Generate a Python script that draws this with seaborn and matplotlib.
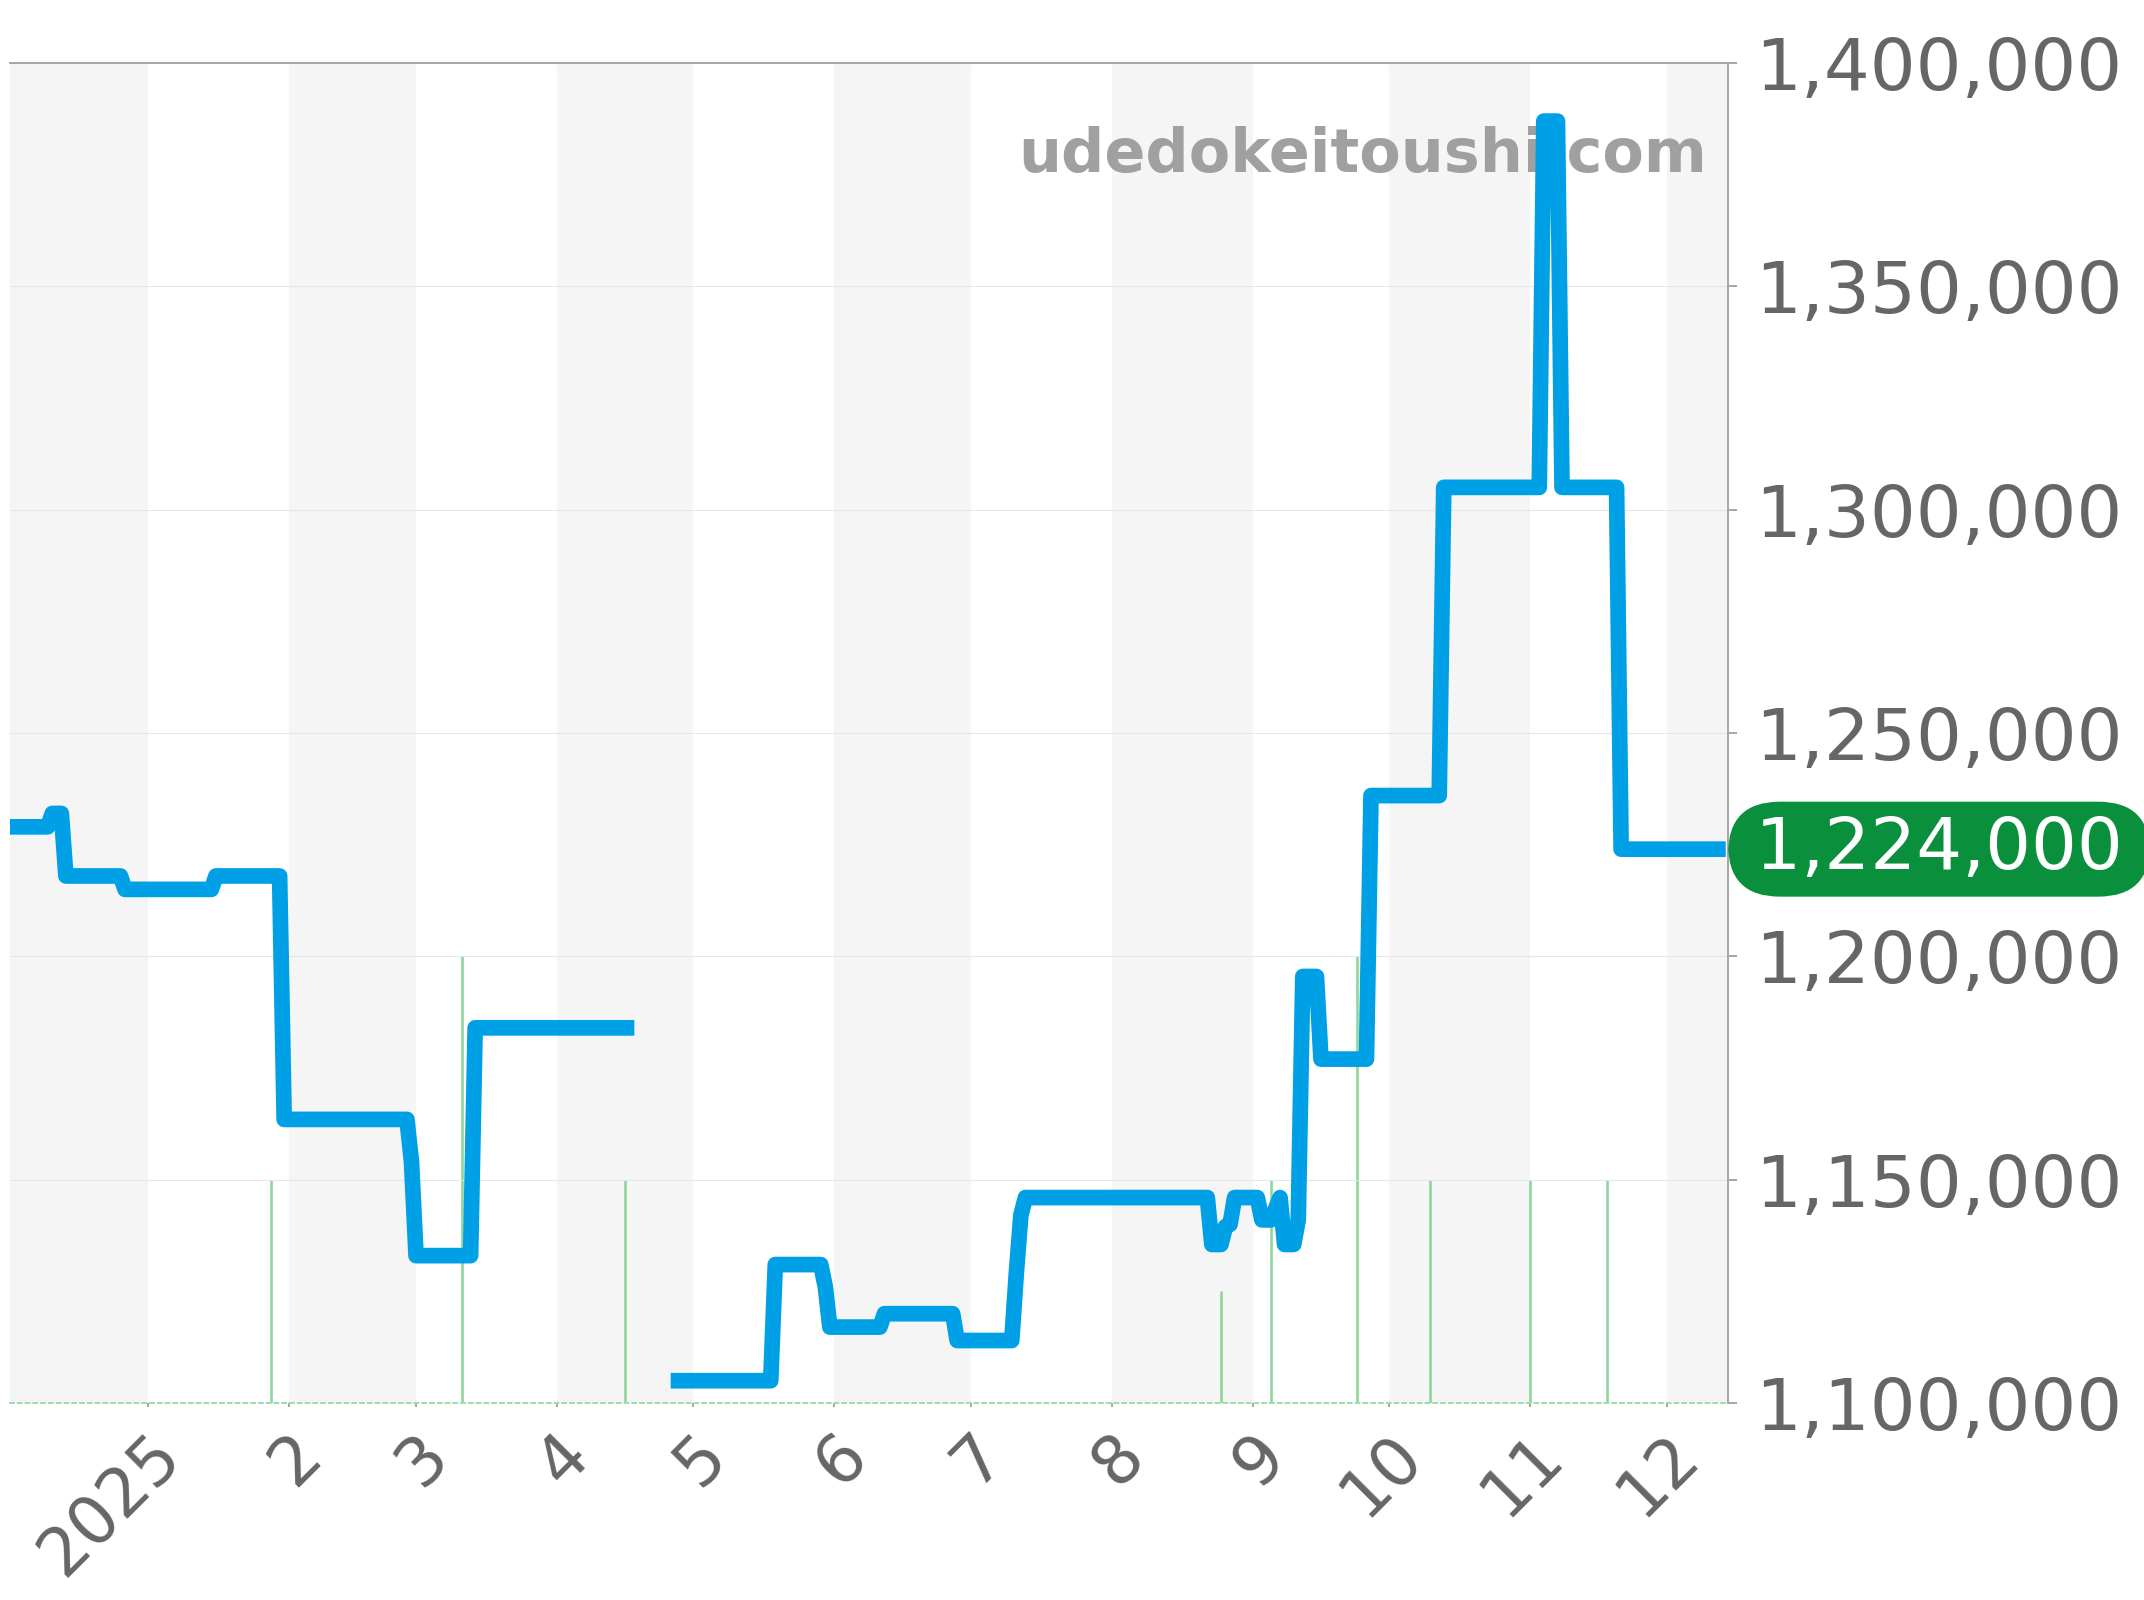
import numpy as np
import pandas as pd
import matplotlib
matplotlib.use("Agg")
import matplotlib.pyplot as plt
import matplotlib.transforms as mtransforms
from matplotlib.ticker import FuncFormatter
import seaborn as sns

# ── Price series: corner points of the step line (gap in late April) ──
SEG1_DATES = ["2024-12-01", "2024-12-10", "2024-12-11", "2024-12-13", "2024-12-14",
              "2024-12-26", "2024-12-27", "2025-01-15", "2025-01-16", "2025-01-30",
              "2025-01-31", "2025-02-27", "2025-02-28", "2025-03-01", "2025-03-13",
              "2025-03-14", "2025-04-18"]
SEG1_PRICES = [1229000, 1229000, 1232000, 1232000, 1218000,
               1218000, 1215000, 1215000, 1218000, 1218000,
               1163500, 1163500, 1154000, 1133000, 1133000,
               1184000, 1184000]

SEG2_DATES = ["2025-04-26", "2025-05-18", "2025-05-19", "2025-05-29", "2025-05-30",
              "2025-05-31", "2025-06-11", "2025-06-12", "2025-06-27", "2025-06-28",
              "2025-07-10", "2025-07-11", "2025-07-12", "2025-07-13", "2025-08-22",
              "2025-08-23", "2025-08-25", "2025-08-26", "2025-08-27", "2025-08-28",
              "2025-09-02", "2025-09-03", "2025-09-05", "2025-09-07", "2025-09-08",
              "2025-09-10", "2025-09-11", "2025-09-12", "2025-09-15", "2025-09-16",
              "2025-09-26", "2025-09-27", "2025-10-12", "2025-10-13", "2025-11-03",
              "2025-11-04", "2025-11-07", "2025-11-08", "2025-11-20", "2025-11-21",
              "2025-12-14"]
SEG2_PRICES = [1105000, 1105000, 1131000, 1131000, 1126000,
               1117000, 1117000, 1120000, 1120000, 1114000,
               1114000, 1129000, 1142000, 1146000, 1146000,
               1135500, 1135500, 1139500, 1140000, 1146000,
               1146000, 1141000, 1141000, 1146000, 1135500,
               1135500, 1141000, 1195500, 1195500, 1177000,
               1177000, 1236000, 1236000, 1305000, 1305000,
               1387000, 1387000, 1305000, 1305000, 1224000,
               1224000]

# ── Trade counts (green bars) ──
VOL_DATES = ["2025-01-28", "2025-03-11", "2025-04-16", "2025-08-25", "2025-09-05",
             "2025-09-24", "2025-10-10", "2025-11-01", "2025-11-18"]
VOL_COUNTS = [2, 4, 2, 1, 2, 4, 2, 2, 2]

MONTH_STARTS = pd.date_range("2024-12-01", "2026-01-01", freq="MS")
TICK_DATES = pd.date_range("2025-01-01", "2025-12-01", freq="MS")
TICK_LABELS = ["2025", "2", "3", "4", "5", "6", "7", "8", "9", "10", "11", "12"]
Y_TICKS = list(range(1100000, 1400001, 50000))

BLUE = "#00a0e6"
GREEN_BAR = "#90d69c"
PILL = "#0a8f3c"
GREY_TXT = "#666666"
AXIS_GREY = "#a6a6a6"

df = pd.concat([
    pd.DataFrame({"date": pd.to_datetime(SEG1_DATES), "price": SEG1_PRICES, "seg": 1}),
    pd.DataFrame({"date": pd.to_datetime(SEG2_DATES), "price": SEG2_PRICES, "seg": 2}),
], ignore_index=True)

fig = plt.figure(figsize=(21.44, 16), dpi=100)
ax = fig.add_axes([0.00466, 0.1231, 0.8013, 0.8375])
ax2 = ax.twinx()
ax.set_zorder(ax2.get_zorder() + 1)
ax.patch.set_visible(False)

# month bands + volume bars live on the back axes
for i, (s, e) in enumerate(zip(MONTH_STARTS[:-1], MONTH_STARTS[1:])):
    if i % 2 == 0:
        ax2.axvspan(s, e, color="#f5f5f5", lw=0, zorder=0)
ax2.vlines(pd.to_datetime(VOL_DATES), 0, VOL_COUNTS, color=GREEN_BAR, lw=1.9, zorder=2)
ax2.set_ylim(0, 12)
ax2.set_yticks([])
for sp in ax2.spines.values():
    sp.set_visible(False)

# price line
sns.lineplot(data=df, x="date", y="price", units="seg", estimator=None, sort=True,
             color=BLUE, lw=11.3, ax=ax, zorder=4,
             solid_joinstyle="round", solid_capstyle="butt")

ax.set_xlim(pd.Timestamp("2024-12-01 17:00"), pd.Timestamp("2025-12-14 12:00"))
ax.set_ylim(1100000, 1400000)
ax.set_xlabel("")
ax.set_ylabel("")

ax.grid(axis="y", color="#e6e6e6", lw=0.75)
ax.grid(axis="x", visible=False)

ax.yaxis.tick_right()
ax.set_yticks(Y_TICKS)
ax.yaxis.set_major_formatter(FuncFormatter(lambda v, p: f"{int(v):,}"))
ax.tick_params(axis="y", length=6.3, width=1.4, color=AXIS_GREY, pad=13,
               labelsize=52, labelcolor=GREY_TXT, left=False, right=True)

ax.set_xticks(TICK_DATES)
ax.set_xticklabels(TICK_LABELS)
ax.tick_params(axis="x", length=3.2, width=1.4, color=AXIS_GREY, pad=27,
               labelsize=48, labelcolor=GREY_TXT)
shift = mtransforms.ScaledTranslation(0.22, 0, fig.dpi_scale_trans)
for lbl in ax.get_xticklabels():
    lbl.set_rotation(45)
    lbl.set_ha("right")
    lbl.set_va("center")
    lbl.set_rotation_mode("anchor")
    lbl.set_transform(lbl.get_transform() + shift)

ax.spines["left"].set_visible(False)
for side in ["top", "right"]:
    ax.spines[side].set_color(AXIS_GREY)
    ax.spines[side].set_linewidth(1.4)
ax.spines["bottom"].set_color("#a0dca8")
ax.spines["bottom"].set_linewidth(1.4)
ax.spines["bottom"].set_linestyle((0, (2, 2)))

# watermark
ax.text(0.988, 0.9189, "udedokeitoushi.com", transform=ax.transAxes,
        ha="right", va="baseline", fontsize=43.5, fontweight="bold",
        color="#a0a0a0", zorder=1)

# latest price pill
last_price = SEG2_PRICES[-1]
blend = mtransforms.blended_transform_factory(ax.transAxes, ax.transData)
ax.annotate(f"\u2009{last_price:,}\u2009", xy=(1, last_price), xycoords=blend,
            xytext=(9.4, 0), textcoords="offset points",
            ha="left", va="center", fontsize=52, color="white",
            bbox=dict(boxstyle="round,pad=0.18,rounding_size=0.72", fc=PILL, ec="none"),
            annotation_clip=False, zorder=6)

fig.savefig("out.png", dpi=100)
